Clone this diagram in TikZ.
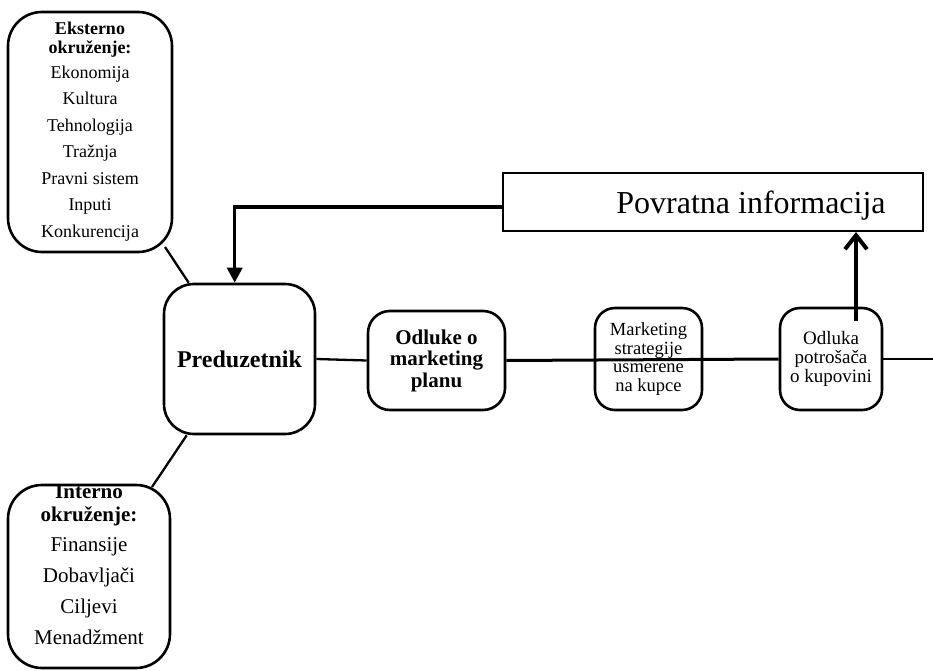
\documentclass[tikz,border=0pt]{standalone}
\usepackage{fontspec}
\setmainfont{Liberation Serif}
\usetikzlibrary{arrows.meta}

\tikzset{
  rbox/.style={draw, line width=2.6pt, rounded corners=#1, inner sep=0pt, align=center},
  rbox/.default=20pt,
  link/.style={line width=2.3pt},
  feed/.style={line width=3.4pt, -{Triangle[length=15pt,width=15pt]}},
  upfeed/.style={line width=4pt, -{Straight Barb[length=14pt,width=22pt]}},
  txt/.style={inner sep=0pt, align=center}
}

\begin{document}
\begin{tikzpicture}[x=1pt, y=-1pt]
\useasboundingbox (0,0) rectangle (933,671);

% outer and inner environment
\node[rbox=34pt, minimum width=164pt, minimum height=240pt] (ext) at (90,132) {};
\node[txt, font=\fontsize{18}{26.5}\selectfont] (extT) at (90,131.5)
  {\textbf{Eksterno}\\[-8pt]\textbf{okruženje:}\\[-1.5pt]Ekonomija\\Kultura\\Tehnologija\\Tražnja\\Pravni sistem\\Inputi\\Konkurencija};

\node[rbox=34pt, minimum width=162pt, minimum height=183pt] (int) at (89,576.5) {};
\node[txt, font=\fontsize{21}{31}\selectfont] (intT) at (89,564.5)
  {\textbf{Interno}\\[-8pt]\textbf{okruženje:}\\[-1pt]Finansije\\Dobavljači\\Ciljevi\\Menadžment};

% main chain
\node[rbox=30pt, minimum width=151pt, minimum height=150pt, font=\fontsize{24}{28}\selectfont\bfseries] (pred) at (239.5,359) {Preduzetnik};
\node[rbox=22pt, minimum width=137pt, minimum height=99pt, font=\fontsize{21}{21.5}\selectfont\bfseries] (odl) at (436.5,360.5) {Odluke o\\marketing\\planu};
\node[rbox=20pt, minimum width=107pt, minimum height=102pt, font=\fontsize{18.5}{18.7}\selectfont] (mkt) at (648.5,359) {Marketing\\strategije\\usmerene\\na kupce};
\node[rbox=20pt, minimum width=102pt, minimum height=102pt, font=\fontsize{19}{19}\selectfont] (kup) at (831,359) {Odluka\\potrošača\\o kupovini};

% feedback box
\node[draw, line width=2pt, minimum width=420pt, minimum height=58pt, inner sep=0pt] (pov) at (713,202) {};
\node[txt, anchor=base, font=\fontsize{32}{36}\selectfont] (povT) at (751,213) {Povratna informacija};

% connectors
\coordinate (extC) at (165,247);
\coordinate (intC) at (152,487);
\draw[link] (extC) -- ([xshift=26pt]pred.north west);
\draw[link] (intC) -- ([xshift=24pt]pred.south west);
\draw[link] (pred.east) -- (odl.west);
\draw[line width=3pt] (odl.east) -- (kup.west);
\coordinate (edge) at (933,359);
\draw[link] (kup.east) -- (edge);

\coordinate (fbIn) at ([yshift=-5pt]pov.west);
\coordinate (fbDown) at ([xshift=72pt]pred.north west);
\draw[feed] (fbIn) -| (fbDown);

\coordinate (upS) at ([xshift=25pt,yshift=-14pt]kup.north);
\draw[upfeed] (upS) -- (upS |- pov.south);
\end{tikzpicture}
\end{document}
